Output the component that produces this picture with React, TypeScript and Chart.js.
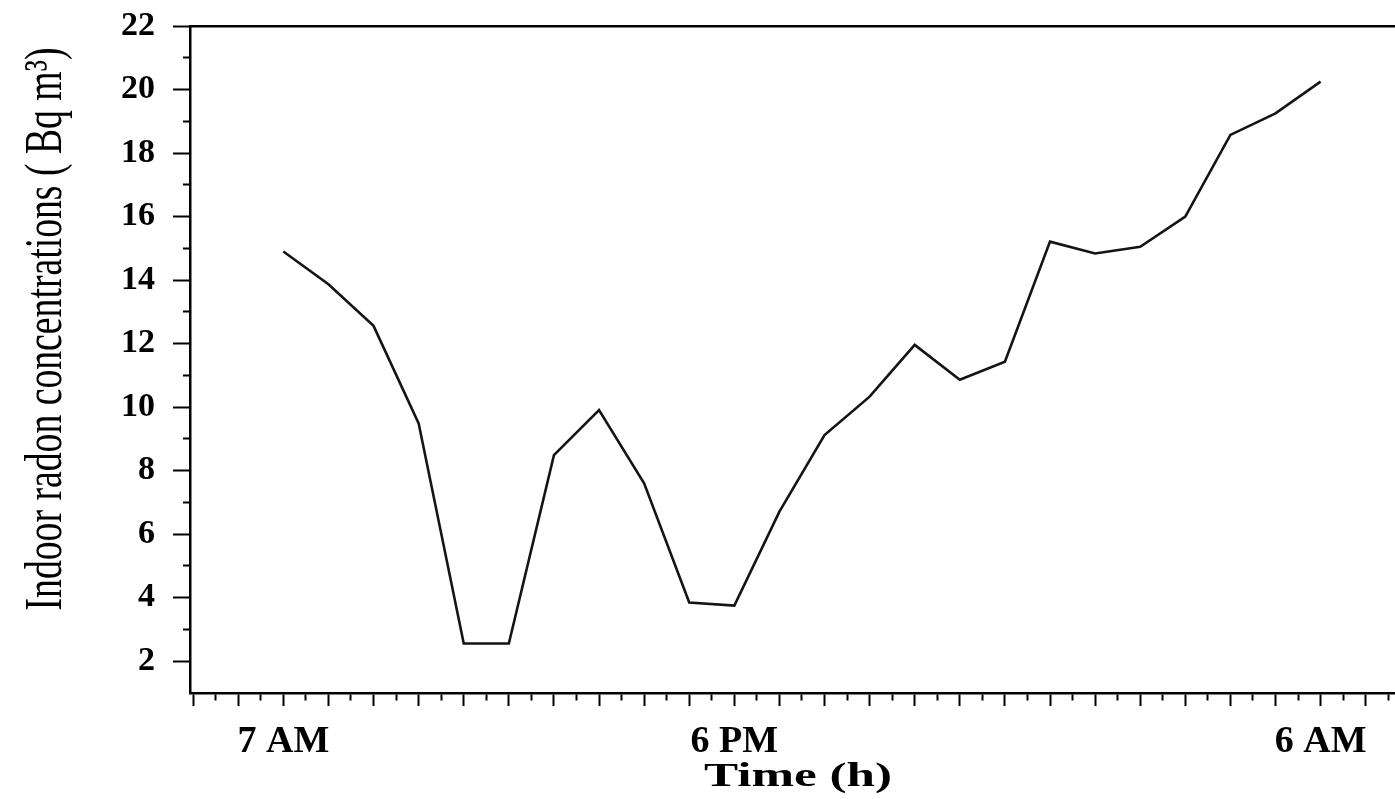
import React, { useEffect, useRef } from 'react';
import { Chart, registerables } from 'chart.js';

Chart.register(...registerables);

// ---- data ----
const sampleIndex = [0, 1, 2, 3, 4, 5, 6, 7, 8, 9, 10, 11, 12, 13, 14, 15, 16, 17, 18, 19, 20, 21, 22, 23];
const radonValues = [
  14.9, 13.87, 12.56, 9.49, 2.56, 2.56, 8.49, 9.91, 7.6, 3.85, 3.75, 6.71,
  9.12, 10.33, 11.96, 10.86, 11.43, 15.21, 14.84, 15.05, 16.0, 18.57, 19.25, 20.25,
];
const timeTickPositions = [0, 10, 23];
const timeTickLabels = ['7 AM', '6 PM', '6 AM'];
const yTickValues = [2, 3, 4, 5, 6, 7, 8, 9, 10, 11, 12, 13, 14, 15, 16, 17, 18, 19, 20, 21, 22];
const xTitle = 'Time (h)';
const yTitle = 'Indoor radon concentrations ( Bq m\u00B3)';

const X_MIN = -2.07;
const X_MAX = 24.65;
const Y_MIN = 1;
const Y_MAX = 22;
const X_MARK_STEP = 0.5;

const SERIF = "'Liberation Serif', 'Times New Roman', serif";

const isInt = (v: number) => Math.abs(v - Math.round(v)) < 1e-6;

const stretchedTitles = {
  id: 'stretchedTitles',
  afterDraw(chart: any) {
    const ctx = chart.ctx as CanvasRenderingContext2D;
    // x title
    ctx.save();
    ctx.fillStyle = '#000';
    ctx.font = `bold 33px ${SERIF}`;
    ctx.textAlign = 'center';
    ctx.textBaseline = 'alphabetic';
    const wx = ctx.measureText(xTitle).width;
    ctx.translate(798, 786);
    ctx.scale(188 / wx, 1);
    ctx.fillText(xTitle, 0, 0);
    ctx.restore();
    // y title
    ctx.save();
    ctx.fillStyle = '#000';
    ctx.font = `53px ${SERIF}`;
    ctx.textAlign = 'center';
    ctx.textBaseline = 'alphabetic';
    const wy = ctx.measureText(yTitle).width;
    ctx.translate(61, 329);
    ctx.rotate(-Math.PI / 2);
    ctx.scale(563 / wy, 1);
    ctx.fillText(yTitle, 0, 0);
    ctx.restore();
  },
};

export default function App() {
  const canvasRef = useRef<HTMLCanvasElement | null>(null);

  useEffect(() => {
    if (!canvasRef.current) return;
    const xMarks: number[] = [];
    for (let v = -2; v <= X_MAX; v += X_MARK_STEP) xMarks.push(v);

    const chart = new Chart(canvasRef.current, {
      type: 'line',
      data: {
        datasets: [
          {
            data: sampleIndex.map((x, i) => ({ x, y: radonValues[i] })),
            borderColor: '#141414',
            borderWidth: 2.6,
            pointRadius: 0,
            tension: 0,
            fill: false,
            xAxisID: 'x',
            yAxisID: 'y',
          },
        ],
      },
      options: {
        animation: false,
        responsive: false,
        devicePixelRatio: 1,
        layout: { padding: { top: 26, left: 0, right: 0, bottom: 0 } },
        plugins: { legend: { display: false }, tooltip: { enabled: false } },
        scales: {
          x: {
            type: 'linear',
            position: 'bottom',
            weight: 0,
            min: X_MIN,
            max: X_MAX,
            afterBuildTicks: (scale: any) => {
              scale.ticks = xMarks.map((value) => ({ value }));
            },
            afterFit: (scale: any) => {
              scale.height = 13;
            },
            ticks: { display: false, autoSkip: false },
            grid: {
              display: true,
              drawOnChartArea: false,
              drawTicks: true,
              tickLength: 13,
              tickWidth: 2,
              tickColor: '#000',
              tickBorderDash: (ctx: any) =>
                ctx.tick && !isInt(ctx.tick.value) ? [6, 100] : [],
            },
            border: { display: true, color: '#000', width: 2.5 },
          },
          xLabels: {
            type: 'linear',
            position: 'bottom',
            weight: 1,
            min: X_MIN,
            max: X_MAX,
            afterBuildTicks: (scale: any) => {
              scale.ticks = timeTickPositions.map((value) => ({ value }));
            },
            afterFit: (scale: any) => {
              scale.height = 93;
            },
            ticks: {
              autoSkip: false,
              maxRotation: 0,
              minRotation: 0,
              padding: 5,
              color: '#000',
              font: { family: SERIF, size: 38, weight: 'bold' },
              callback: (value: any) => {
                const idx = timeTickPositions.indexOf(Number(value));
                return idx >= 0 ? timeTickLabels[idx] : '';
              },
            },
            grid: { display: false },
            border: { display: false },
          },
          xTop: {
            type: 'linear',
            position: 'top',
            min: X_MIN,
            max: X_MAX,
            afterFit: (scale: any) => {
              scale.height = 0;
            },
            ticks: { display: false },
            grid: { display: true, drawOnChartArea: false, drawTicks: false },
            border: { display: true, color: '#000', width: 2.5 },
          },
          y: {
            type: 'linear',
            position: 'left',
            min: Y_MIN,
            max: Y_MAX,
            afterBuildTicks: (scale: any) => {
              scale.ticks = yTickValues.map((value) => ({ value }));
            },
            afterFit: (scale: any) => {
              scale.width = 190;
              scale.paddingTop = 0;
              scale.paddingBottom = 0;
            },
            ticks: {
              autoSkip: false,
              padding: 18,
              color: '#000',
              font: { family: SERIF, size: 34, weight: 'bold' },
              callback: (value: any) => (Number(value) % 2 === 0 ? String(value) : ''),
            },
            grid: {
              display: true,
              drawOnChartArea: false,
              drawTicks: true,
              tickLength: 17,
              tickWidth: 2,
              tickColor: '#000',
              tickBorderDash: (ctx: any) =>
                ctx.tick && Number(ctx.tick.value) % 2 !== 0 ? [0, 10, 7, 100] : [],
            },
            border: { display: true, color: '#000', width: 2.5 },
          },
        },
      } as any,
      plugins: [stretchedTitles],
    });
    return () => chart.destroy();
  }, []);

  return (
    <div style={{ position: 'fixed', left: 0, top: 0, width: 1395, height: 799, background: '#fff' }}>
      <canvas ref={canvasRef} width={1395} height={799} style={{ display: 'block' }} />
    </div>
  );
}
